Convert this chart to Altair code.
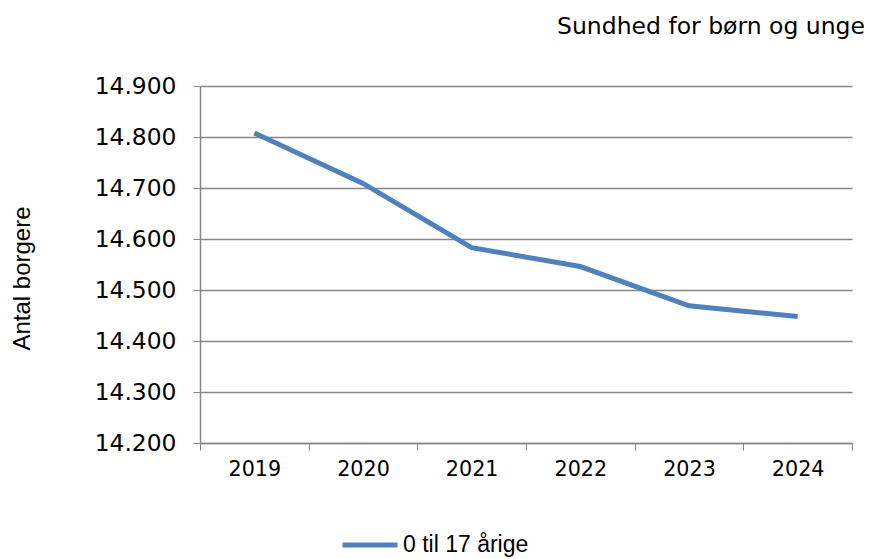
import altair as alt
import pandas as pd

years = ["2019", "2020", "2021", "2022", "2023", "2024"]
values = [14808, 14709, 14583, 14546, 14469, 14448]
series = ["0 til 17 årige"] * len(years)

df = pd.DataFrame({"År": years, "Antal": values, "Serie": series})

grid_color = "#868686"

chart = alt.Chart(df).mark_line(strokeWidth=5, color="#4F81BD").encode(
    x=alt.X(
        "År:O",
        sort=years,
        scale=alt.Scale(type="band", paddingInner=0, paddingOuter=0),
        axis=alt.Axis(
            title=None,
            tickBand="extent",
            labelAngle=0,
            labelFont="DejaVu Sans",
            labelFontSize=20.7,
            labelColor="#000000",
            labelPadding=9,
            tickSize=7,
            tickColor=grid_color,
            domainColor=grid_color,
            domainWidth=1.5,
            grid=False,
        ),
    ),
    y=alt.Y(
        "Antal:Q",
        scale=alt.Scale(domain=[14200, 14900], nice=False, zero=False),
        axis=alt.Axis(
            title="Antal borgere",
            titleFont="Liberation Sans",
            titleFontSize=24,
            titleFontWeight="normal",
            titleColor="#000000",
            titleAngle=270,
            titleX=-178,
            titleY=192,
            titleAlign="center",
            titleBaseline="middle",
            values=[14200, 14300, 14400, 14500, 14600, 14700, 14800, 14900],
            labelExpr="replace(format(datum.value, ',d'), ',', '.')",
            labelFont="DejaVu Sans",
            labelFontSize=23.4,
            labelColor="#000000",
            labelPadding=17,
            tickSize=7,
            tickColor=grid_color,
            domainColor=grid_color,
            domainWidth=1.5,
            grid=True,
            gridColor=grid_color,
            gridWidth=1.5,
        ),
    ),
    stroke=alt.Stroke(
        "Serie:N",
        scale=alt.Scale(range=["#4F81BD"]),
        legend=alt.Legend(
            title=None,
            orient="none",
            legendX=140,
            legendY=429,
            symbolType="stroke",
            symbolSize=3025,
            symbolStrokeWidth=5,
            labelFont="Liberation Sans",
            labelFontSize=23,
            labelColor="#000000",
            labelOffset=3,
            padding=0,
        ),
    ),
).properties(
    width=652,
    height=357,
    title=alt.TitleParams(
        "Sundhed for børn og unge",
        anchor="end",
        frame="group",
        font="DejaVu Sans",
        fontSize=23.5,
        fontWeight="normal",
        color="#000000",
        dx=13,
        offset=36,
    ),
    autosize=alt.AutoSizeParams(type="none"),
    padding={"left": 192, "top": 78, "right": 12, "bottom": 116},
).configure_view(stroke=None)

chart.save("out.html", embed_options={"renderer": "svg", "actions": False})
